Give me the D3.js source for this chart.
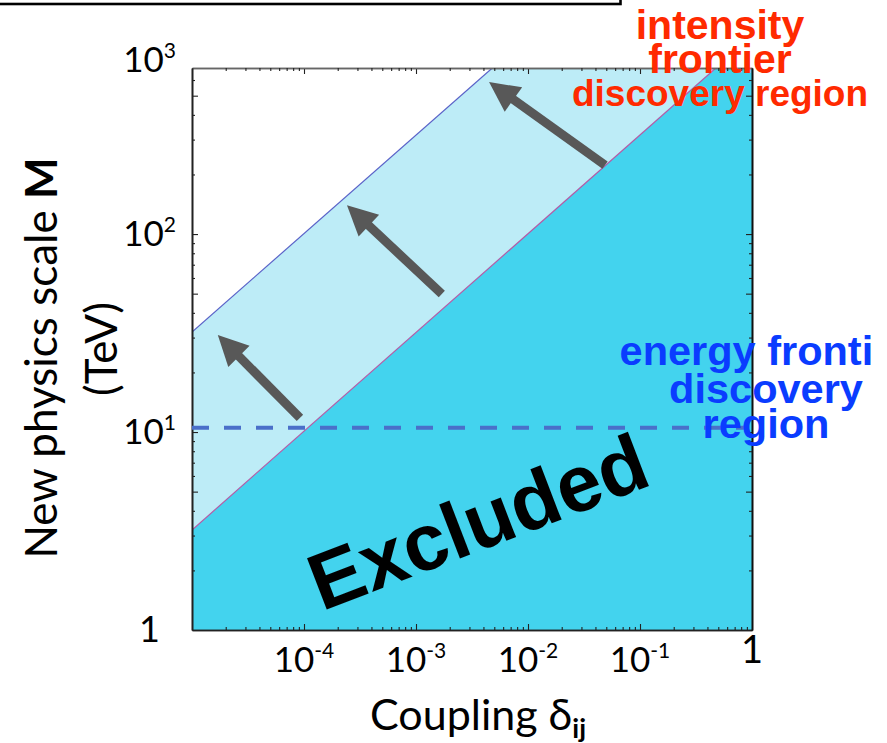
<!DOCTYPE html>
<html><head><meta charset="utf-8">
<script src="https://cdn.jsdelivr.net/npm/d3@7"></script>
<style>body{margin:0;background:#fff;} svg{display:block;}</style>
</head><body>
<script>
// ---------- data ----------
const xDomain = [1e-5, 1];
const yDomain = [1, 690];
const xTickValues = [1e-4, 1e-3, 1e-2, 1e-1, 1];
const xTickLabels = [["10","-4"],["10","-3"],["10","-2"],["10","-1"],["1",""]];
const yTickValues = [1, 10, 100, 690];
const yTickLabels = [["1",""],["10","1"],["10","2"],["10","3"]];
const lowerDelta = [1e-5, 0.476];
const lowerM = [3.2, 690];
const upperDelta = [1e-5, 0.0048];
const upperM = [32, 690];
const energyFrontierDelta = [1e-5, 0.87];
const energyFrontierM = [10.5, 10.5];
const arrowTailDelta = [9.2e-5, 1.7e-3, 0.0487];
const arrowTailM = [11.8, 49.8, 223];
const arrowTipDelta = [1.7e-5, 2.42e-4, 4.49e-3];
const arrowTipM = [30.9, 140, 586];
const intensityText = ["intensity", "frontier", "discovery region"];
const energyText = ["energy frontier", "discovery", "region"];

// ---------- layout ----------
const W = 887, H = 743;
const svg = d3.select("body").append("svg").attr("width", W).attr("height", H);
const x = d3.scaleLog().domain(xDomain).range([192, 752]);
const y = d3.scaleLog().domain(yDomain).range([630, 68]);
const FONT = "Lato, 'Open Sans', sans-serif";

const defs = svg.append("defs");
defs.append("clipPath").attr("id","plotClip").append("rect")
  .attr("x", x.range()[0]).attr("y", y.range()[1])
  .attr("width", x.range()[1]-x.range()[0]).attr("height", y.range()[0]-y.range()[1]);
defs.append("clipPath").attr("id","pageClip").append("rect")
  .attr("x",0).attr("y",0).attr("width",874).attr("height",H);

// top box fragment
svg.append("rect").attr("x",-10).attr("y",-30).attr("width",630.5).attr("height",34)
  .attr("fill","none").attr("stroke","#000").attr("stroke-width",2.6);

const plot = svg.append("g").attr("clip-path","url(#plotClip)");
const pt = (d,m) => [x(d), y(m)];

// excluded region
const excl = [pt(xDomain[0], yDomain[0]), pt(lowerDelta[0], lowerM[0]), pt(lowerDelta[1], lowerM[1]),
              pt(xDomain[1], yDomain[1]), pt(xDomain[1], yDomain[0])];
plot.append("path").attr("d", d3.line()(excl) + "Z").attr("fill", "#43d3ee");
// intensity discovery band
const band = [pt(lowerDelta[0], lowerM[0]), pt(upperDelta[0], upperM[0]), pt(upperDelta[1], upperM[1]), pt(lowerDelta[1], lowerM[1])];
plot.append("path").attr("d", d3.line()(band) + "Z").attr("fill", "#bdecf7");
// boundary lines
plot.append("path").attr("d", d3.line()(lowerDelta.map((d,i)=>pt(d, lowerM[i]))))
  .attr("stroke","#b35aa6").attr("stroke-width",1.2).attr("fill","none");
plot.append("path").attr("d", d3.line()(upperDelta.map((d,i)=>pt(d, upperM[i]))))
  .attr("stroke","#5a62c8").attr("stroke-width",1.2).attr("fill","none");

// axes (ticks inward)
function isPow10(v){ const l = Math.log10(v); return Math.abs(l-Math.round(l))<1e-9; }
function isFive(v){ const l = Math.log10(v/5); return Math.abs(l-Math.round(l))<1e-9; }
const xt = x.ticks().filter(v => v > xDomain[0]*1.0001 && v < xDomain[1]*0.9999);
const yt = y.ticks().filter(v => v > yDomain[0]*1.0001 && v < yDomain[1]*0.9999);
const xMajor = xt.filter(isPow10), xMinor = xt.filter(v=>!isPow10(v));
const yMajor = yt.filter(v=>isPow10(v)||isFive(v)), yMinor = yt.filter(v=>!(isPow10(v)||isFive(v)));

function drawAxis(gen, tr, major, minor, col, majLen, minLen){
  const g1 = svg.append("g").attr("transform", tr)
    .call(gen.tickValues(major).tickSizeInner(-majLen).tickSizeOuter(0).tickFormat(""));
  const g2 = svg.append("g").attr("transform", tr)
    .call(gen.tickValues(minor).tickSizeInner(-minLen).tickSizeOuter(0).tickFormat(""));
  [g1,g2].forEach(g=>{
    g.selectAll("path.domain").attr("stroke", col).attr("stroke-width",1.6);
    g.selectAll(".tick line").attr("stroke", "#222").attr("stroke-width",1.1);
  });
}
drawAxis(d3.axisBottom(x), `translate(0,${y.range()[0]})`, xMajor, xMinor, "#222", 6, 3);
drawAxis(d3.axisTop(x), `translate(0,${y.range()[1]})`, xMajor, xMinor, "#666", 6, 3);
drawAxis(d3.axisLeft(y), `translate(${x.range()[0]},0)`, yMajor, yMinor, "#222", 6, 3);
drawAxis(d3.axisRight(y), `translate(${x.range()[1]},0)`, yMajor, yMinor, "#111", 6, 3);

// energy frontier dashed line
svg.append("path").attr("d", d3.line()(energyFrontierDelta.map((d,i)=>pt(d, energyFrontierM[i]))))
  .attr("stroke","#4a6fc9").attr("stroke-width",4).attr("stroke-dasharray","17 15").attr("fill","none");

// arrows
arrowTailDelta.forEach((d,i)=>{
  const [x0,y0] = pt(d, arrowTailM[i]);
  const [x1,y1] = pt(arrowTipDelta[i], arrowTipM[i]);
  const dx = x1-x0, dy = y1-y0, L = Math.hypot(dx,dy);
  const ux = dx/L, uy = dy/L, hl = 30, hw = 15;
  const bx = x1 - ux*hl, by = y1 - uy*hl;
  svg.append("line").attr("x1",x0).attr("y1",y0).attr("x2",bx+ux*2).attr("y2",by+uy*2)
    .attr("stroke","#585858").attr("stroke-width",9);
  svg.append("path").attr("d", d3.line()([[x1,y1],[bx - uy*hw, by + ux*hw],[bx + uy*hw, by - ux*hw]]) + "Z")
    .attr("fill","#585858");
});

// Excluded label
svg.append("text").attr("transform","translate(478,522) rotate(-21)")
  .attr("text-anchor","middle").attr("dominant-baseline","central")
  .attr("font-family","Arial, 'Liberation Sans', sans-serif").attr("font-weight","bold")
  .attr("font-size",80).attr("fill","#000").text("Excluded");

// tick labels
xTickValues.forEach((v,i)=>{
  const t = svg.append("text").attr("x", x(v)).attr("y", v===1 ? 663 : 672)
    .attr("text-anchor","middle").attr("font-family",FONT).attr("font-size",v===1?38:35).attr("fill","#000");
  t.append("tspan").text(xTickLabels[i][0]);
  if (xTickLabels[i][1]) t.append("tspan").attr("dy",-14).attr("font-size",21).text(xTickLabels[i][1]);
});
yTickValues.forEach((v,i)=>{
  const top = i === yTickValues.length-1;
  const t = svg.append("text").attr("x", v===1 ? 160 : 176).attr("y", y(v) + (top ? 4 : 12))
    .attr("text-anchor","end").attr("font-family",FONT).attr("font-size",v===1?36:35).attr("fill","#000");
  t.append("tspan").text(yTickLabels[i][0]);
  if (yTickLabels[i][1]) t.append("tspan").attr("dy",-14).attr("font-size",21).text(yTickLabels[i][1]);
});

// axis titles
const yl = svg.append("text").attr("transform","translate(57,358) rotate(-90)")
  .attr("text-anchor","middle").attr("font-family",FONT).attr("font-size",44).attr("fill","#000");
yl.append("tspan").text("New physics scale ");
yl.append("tspan").attr("font-weight","bold").text("M");
svg.append("text").attr("transform","translate(117,349) rotate(-90)")
  .attr("text-anchor","middle").attr("font-family",FONT).attr("font-size",44).attr("fill","#000").text("(TeV)");
const xl = svg.append("text").attr("x",370).attr("y",730)
  .attr("font-family",FONT).attr("font-size",43).attr("fill","#000");
xl.append("tspan").text("Coupling ");
xl.append("tspan").text("δ");
xl.append("tspan").attr("dy",8).attr("font-size",27).attr("font-weight","bold").text("ij");

// region annotations
const red = svg.append("g").attr("font-family","Arial, 'Liberation Sans', sans-serif").attr("font-weight","bold")
  .attr("fill","#ff2a00").attr("text-anchor","middle");
[[39,41],[73,41],[106,37]].forEach(([yy,fs],i)=>{
  red.append("text").attr("x",720).attr("y",yy).attr("font-size",fs).text(intensityText[i]);
});
const blue = svg.append("g").attr("clip-path","url(#pageClip)")
  .attr("font-family","Arial, 'Liberation Sans', sans-serif").attr("font-weight","bold")
  .attr("fill","#0a3cff").attr("text-anchor","middle");
[[365,41.5],[403,41.5],[438,41.5]].forEach(([yy,fs],i)=>{
  blue.append("text").attr("x",766).attr("y",yy).attr("font-size",fs).text(energyText[i]);
});
</script>
</body></html>
